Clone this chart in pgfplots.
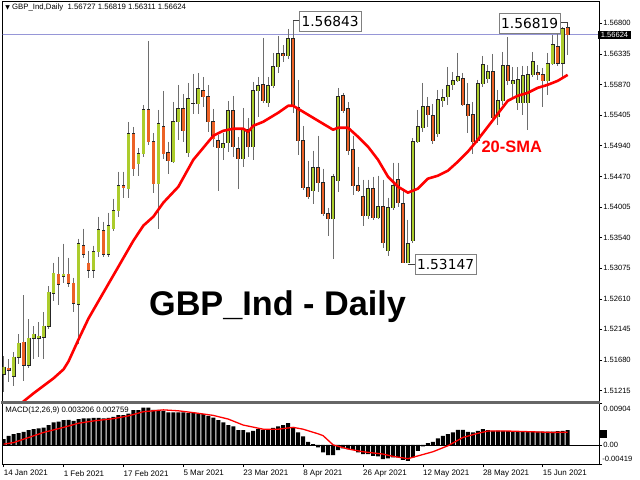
\documentclass[border=0pt]{standalone}
\usepackage{pgfplots}
\pgfplotsset{compat=1.18}
\usepackage{pgfplotstable}
\usepackage{fontspec}
\setmainfont{Liberation Sans}
\newfontfamily\dejavu{DejaVu Sans}

\definecolor{bull}{RGB}{172,204,44}
\definecolor{bear}{RGB}{236,98,38}
\definecolor{wick}{RGB}{110,110,110}
\definecolor{pline}{RGB}{150,150,215}

% daily candles, bull and bear: index, open, high, low, close
\pgfplotstableread{
i o h l c
0 1.51462 1.51735 1.51189 1.51569
2 1.51432 1.51796 1.51280 1.51720
3 1.51720 1.52069 1.51614 1.51933
5 1.51599 1.52297 1.51553 1.52009
6 1.52009 1.52191 1.51690 1.52069
7 1.52009 1.52251 1.51720 1.52039
8 1.52024 1.52403 1.51690 1.52191
9 1.52191 1.52798 1.52145 1.52707
10 1.52692 1.53162 1.52570 1.52995
12 1.52950 1.53450 1.52843 1.52980
15 1.52525 1.53526 1.51918 1.53450
18 1.53041 1.53420 1.52919 1.53329
19 1.53329 1.53860 1.53253 1.53663
21 1.53284 1.53921 1.53253 1.53724
22 1.53678 1.54133 1.53648 1.53951
23 1.53951 1.54543 1.53860 1.54331
25 1.54285 1.55302 1.54149 1.55120
27 1.54665 1.54907 1.54482 1.54816
28 1.54816 1.55560 1.54771 1.55484
31 1.54361 1.55484 1.53678 1.55272
34 1.54695 1.55606 1.54680 1.55302
35 1.55302 1.55864 1.55029 1.55499
37 1.54832 1.55894 1.54771 1.55651
39 1.55575 1.56046 1.55423 1.55803
44 1.54907 1.55135 1.54725 1.54968
45 1.54983 1.55621 1.54847 1.55469
48 1.54740 1.55515 1.54619 1.55181
50 1.54923 1.55909 1.54725 1.55772
51 1.55772 1.55985 1.55378 1.55848
53 1.55590 1.55985 1.55530 1.55848
54 1.55848 1.56349 1.55818 1.56137
55 1.56137 1.56607 1.56046 1.56334
57 1.56304 1.56714 1.56258 1.56562
62 1.54255 1.54862 1.54057 1.54604
66 1.53830 1.54513 1.53208 1.54467
67 1.54407 1.55818 1.54240 1.55681
73 1.53875 1.54422 1.53830 1.54285
75 1.53845 1.54482 1.53830 1.54012
77 1.53344 1.54149 1.53268 1.53997
78 1.53997 1.54680 1.53966 1.54331
81 1.53160 1.53815 1.53147 1.53450
82 1.53496 1.55059 1.53466 1.54999
83 1.54999 1.55484 1.54983 1.55226
84 1.55211 1.55894 1.55150 1.55530
87 1.55120 1.55788 1.55074 1.55636
88 1.55621 1.55803 1.55530 1.55666
89 1.55681 1.56137 1.55560 1.55848
90 1.55864 1.56061 1.55788 1.55924
91 1.55924 1.56349 1.55909 1.55985
95 1.55014 1.55939 1.54983 1.55879
96 1.55879 1.56304 1.55833 1.56167
97 1.55955 1.56167 1.55894 1.56061
99 1.55378 1.55788 1.55256 1.55621
100 1.55621 1.56364 1.55560 1.56152
102 1.55879 1.56137 1.55681 1.55924
103 1.55590 1.56137 1.55484 1.55939
104 1.55590 1.56152 1.55408 1.56000
105 1.55590 1.56152 1.55181 1.56015
106 1.56015 1.56364 1.55985 1.56213
109 1.55924 1.56349 1.55712 1.56182
110 1.56182 1.56622 1.56167 1.56471
112 1.56197 1.56744 1.55985 1.56714
}\bulltab

\pgfplotstableread{
i o h l c
1 1.51553 1.51690 1.51341 1.51523
4 1.51948 1.52661 1.51356 1.51599
11 1.52980 1.53253 1.52509 1.52828
13 1.52980 1.53238 1.52783 1.52843
14 1.52843 1.52934 1.52403 1.52540
16 1.53420 1.53678 1.53223 1.53284
17 1.53147 1.53344 1.52919 1.53041
20 1.53648 1.53784 1.53253 1.53284
24 1.54331 1.54543 1.54149 1.54300
26 1.55120 1.55226 1.54482 1.54589
29 1.55484 1.56531 1.54953 1.54999
30 1.54999 1.55135 1.54224 1.54361
32 1.55226 1.55772 1.54740 1.54816
33 1.54832 1.54999 1.54513 1.54710
36 1.55499 1.55727 1.54999 1.55165
38 1.55575 1.56031 1.55423 1.55575
40 1.55772 1.55985 1.55530 1.55681
41 1.55681 1.55864 1.55150 1.55302
42 1.55302 1.55499 1.54923 1.55044
43 1.55014 1.55105 1.54255 1.54907
46 1.55469 1.55697 1.54771 1.54923
47 1.54892 1.55074 1.54285 1.54740
49 1.55181 1.55363 1.54771 1.54923
52 1.55864 1.56577 1.55590 1.55621
56 1.56334 1.56471 1.56213 1.56304
58 1.56562 1.56843 1.55439 1.55530
59 1.55515 1.55939 1.54801 1.55014
60 1.55014 1.55241 1.54270 1.54300
61 1.54300 1.54710 1.54133 1.54164
63 1.54604 1.55090 1.54240 1.54376
64 1.54376 1.54589 1.53875 1.53906
65 1.53906 1.53997 1.53572 1.53830
68 1.55697 1.55742 1.55439 1.55469
69 1.55499 1.55606 1.54801 1.54862
70 1.54877 1.55090 1.54194 1.54331
71 1.54331 1.54619 1.54240 1.54255
72 1.54164 1.54422 1.53724 1.53875
74 1.54285 1.54467 1.53815 1.53845
76 1.54012 1.54422 1.53390 1.53466
79 1.54422 1.54680 1.54012 1.54073
80 1.54057 1.54285 1.53155 1.53162
85 1.55530 1.55681 1.55226 1.55408
86 1.55393 1.55575 1.54968 1.55014
92 1.55955 1.56046 1.55545 1.55560
93 1.55560 1.55894 1.55135 1.55393
94 1.55408 1.55606 1.54816 1.54999
98 1.56061 1.56334 1.55332 1.55363
101 1.56152 1.56592 1.55864 1.55924
107 1.56046 1.56167 1.55939 1.56015
108 1.56015 1.56122 1.55530 1.55924
111 1.56440 1.56729 1.56152 1.56197
113 1.56727 1.56819 1.56311 1.56624
}\beartab

% 20-SMA
\pgfplotstableread{
i v
3 1.50961
4 1.51052
6 1.51174
10 1.51402
12 1.51538
13 1.51660
15 1.51993
17 1.52312
20 1.52707
23 1.53101
26 1.53496
28 1.53724
30 1.53860
32 1.54073
35 1.54315
38 1.54725
40 1.54907
42 1.55090
44 1.55165
46 1.55196
48 1.55196
49 1.55150
50 1.55241
52 1.55302
55 1.55439
57 1.55545
58 1.55545
60 1.55454
62 1.55363
64 1.55272
66 1.55181
67 1.55211
69 1.55211
71 1.55074
73 1.54923
75 1.54725
77 1.54467
79 1.54315
81 1.54224
83 1.54285
85 1.54437
87 1.54482
89 1.54558
91 1.54695
93 1.54847
95 1.55029
97 1.55226
99 1.55423
101 1.55621
103 1.55697
105 1.55742
107 1.55818
109 1.55864
111 1.55924
113 1.56015
}\smatab

% MACD histogram
\pgfplotstableread{
i v
0 0.00124
1 0.00195
2 0.00232
3 0.00254
4 0.00282
5 0.00319
6 0.00340
7 0.00356
8 0.00377
9 0.00427
10 0.00486
11 0.00507
12 0.00536
13 0.00542
14 0.00520
15 0.00557
16 0.00573
17 0.00573
18 0.00586
19 0.00586
20 0.00573
21 0.00586
22 0.00607
23 0.00644
24 0.00644
25 0.00681
26 0.00753
27 0.00753
28 0.00811
29 0.00811
30 0.00759
31 0.00759
32 0.00737
33 0.00703
34 0.00703
35 0.00703
36 0.00703
37 0.00687
38 0.00687
39 0.00681
40 0.00666
41 0.00629
42 0.00594
43 0.00536
44 0.00486
45 0.00427
46 0.00399
47 0.00319
48 0.00319
49 0.00269
50 0.00304
51 0.00340
52 0.00325
53 0.00325
54 0.00369
55 0.00399
56 0.00427
57 0.00471
58 0.00377
59 0.00269
60 0.00182
61 0.00065
62 0.00015
63 -0.00056
64 -0.00165
65 -0.00223
66 -0.00223
67 -0.00115
68 -0.00078
69 -0.00093
70 -0.00108
71 -0.00165
72 -0.00202
73 -0.00202
74 -0.00239
75 -0.00252
76 -0.00310
77 -0.00295
78 -0.00273
79 -0.00273
80 -0.00325
81 -0.00347
82 -0.00273
83 -0.00130
84 -0.00035
85 0.00037
86 0.00065
87 0.00139
88 0.00195
89 0.00232
90 0.00269
91 0.00325
92 0.00325
93 0.00282
94 0.00269
95 0.00304
96 0.00340
97 0.00319
98 0.00304
99 0.00310
100 0.00304
101 0.00300
102 0.00297
103 0.00297
104 0.00290
105 0.00290
106 0.00287
107 0.00287
108 0.00290
109 0.00290
110 0.00290
111 0.00297
112 0.00304
113 0.00321
}\histtab

% MACD signal line
\pgfplotstableread{
i v
0 0.00015
2 0.00050
5 0.00160
8 0.00270
12 0.00380
15 0.00470
18 0.00520
22 0.00570
25 0.00630
28 0.00720
32 0.00760
35 0.00740
38 0.00700
42 0.00640
45 0.00560
48 0.00430
52 0.00340
55 0.00340
58 0.00380
60 0.00340
63 0.00240
64 0.00200
66 0.00000
69 -0.00090
72 -0.00150
76 -0.00200
78 -0.00250
81 -0.00300
83 -0.00240
86 -0.00150
89 -0.00020
92 0.00160
95 0.00250
97 0.00300
101 0.00300
104 0.00290
107 0.00280
110 0.00270
113 0.00276
}\sigtab

\pgfplotsset{
  mt/.style={scale only axis, anchor=south west, xmin=-0.2, xmax=119.3,
    axis line style={black, line width=0.6pt},
    tick align=outside, major tick length=3pt,
    tick style={black, line width=0.5pt},
    scaled y ticks=false, scaled x ticks=false,
    ytick pos=right, yticklabel pos=right,
    ticklabel style={font=\fontsize{7.6}{8}\selectfont},
    yticklabel style={anchor=west, inner sep=0pt, xshift=1pt}},
  body/.style n args={2}{draw=none, mark=none, forget plot,
    error bars/.cd, y dir=minus, y explicit, error mark=none,
    error bar style={draw=#1, line width=#2}},
}

\begin{document}
\begin{tikzpicture}[x=1pt,y=1pt]
\fill[white] (0,0) rectangle (640,480);

\begin{axis}[mt, at={(1.5pt,77pt)}, width=597.5pt, height=401.3pt,
  ymin=1.51037, ymax=1.57128, xtick=\empty,
  ytick={1.51215,1.51680,1.52145,1.52610,1.53075,1.53540,1.54005,1.54470,1.54940,1.55405,1.55870,1.56335,1.56800},
  yticklabels={1.51215,1.51680,1.52145,1.52610,1.53075,1.53540,1.54005,1.54470,1.54940,1.55405,1.55870,1.56335,1.56800}]

\addplot[pline, line width=0.8pt] coordinates {(-1,1.56624) (121,1.56624)};

% wicks
\addplot[body={wick}{0.9pt}]
  table[x=i, y=h, y error minus expr={\thisrow{h}-\thisrow{l}}] {\bulltab};
\addplot[body={wick}{0.9pt}]
  table[x=i, y=h, y error minus expr={\thisrow{h}-\thisrow{l}}] {\beartab};

% bodies: dark outline, then fill
\addplot[body={black!85}{3.8pt}]
  table[x=i, y expr={max(\thisrow{o},\thisrow{c})+0.00009},
        y error minus expr={abs(\thisrow{c}-\thisrow{o})+0.00018}] {\bulltab};
\addplot[body={black!85}{3.8pt}]
  table[x=i, y expr={max(\thisrow{o},\thisrow{c})+0.00009},
        y error minus expr={abs(\thisrow{c}-\thisrow{o})+0.00018}] {\beartab};
\addplot[body={bull}{2.4pt}]
  table[x=i, y expr={max(\thisrow{o},\thisrow{c})},
        y error minus expr={abs(\thisrow{c}-\thisrow{o})}] {\bulltab};
\addplot[body={bear}{2.4pt}]
  table[x=i, y expr={max(\thisrow{o},\thisrow{c})},
        y error minus expr={abs(\thisrow{c}-\thisrow{o})}] {\beartab};

% 20-SMA
\addplot[red, line width=2.6pt, line join=round] table[x=i, y=v] {\smatab};
\end{axis}

% MACD caption sits behind the histogram
\node[anchor=west, inner sep=0pt, font=\fontsize{7.8}{9}\selectfont] at (4,68.5)
  {MACD(12,26,9) 0.003206 0.002759};

\begin{axis}[mt, at={(1.5pt,15pt)}, width=597.5pt, height=61pt,
  ymin=-0.00419, ymax=0.00904,
  ytick={-0.00419,0,0.00904}, yticklabels={,0.00,},
  xtick={0,12,...,108}, xtick pos=bottom,
  xticklabels={14 Jan 2021,1 Feb 2021,17 Feb 2021,5 Mar 2021,23 Mar 2021,8 Apr 2021,26 Apr 2021,12 May 2021,28 May 2021,15 Jun 2021},
  xticklabel style={font=\fontsize{8}{9}\selectfont, anchor=north west, inner sep=0pt, xshift=0pt, yshift=-3pt}]
\addplot[ybar, bar width=4pt, fill=black, draw=none] table[x=i, y=v] {\histtab};
\addplot[black, line width=0.7pt] coordinates {(-1,0) (121,0)};
\addplot[red, line width=1.3pt, line join=round] table[x=i, y=v] {\sigtab};
\end{axis}

% panel separator
\draw[black!60, line width=2.4pt] (0,76.7) -- (599.5,76.7);

% price panel caption
\node[anchor=west, inner sep=0pt, font=\fontsize{7.8}{9}\selectfont] at (4,472)
  {{\dejavu\fontsize{6}{7}\selectfont ▼}\ GBP\_Ind,Daily\ \ 1.56727 1.56819 1.56311 1.56624};

% right side extra labels
\node[anchor=west, fill=black, text=white, inner xsep=3pt, inner ysep=1.2pt,
  font=\fontsize{7.6}{8}\selectfont] at (597.5,445) {1.56624};
\fill[black] (600,41) rectangle (606.5,49.5);
\node[anchor=west, inner sep=0pt, font=\fontsize{7.6}{8}\selectfont] at (603,70) {0.00904};
\node[anchor=west, inner sep=0pt, font=\fontsize{7.6}{8}\selectfont] at (602,20) {-0.00419};

% price call-outs
\draw[black!75, line width=0.6pt] (292.5,459.3) -- (298,459.3);
\node[draw=black!50, fill=white, minimum width=62.5pt, minimum height=20.5pt, inner sep=0pt,
  font=\dejavu\fontsize{13.8}{15}\selectfont] at (329.5,458.7) {1.56843};
\draw[black!75, line width=0.6pt] (560,457.3) -- (567.5,457.3) -- (567.5,452);
\node[draw=black!50, fill=white, minimum width=61pt, minimum height=20pt, inner sep=0pt,
  font=\dejavu\fontsize{13.8}{15}\selectfont] at (529.5,456.7) {1.56819};
\draw[black!75, line width=0.6pt] (407.5,215.7) -- (414.3,215.7);
\node[draw=black!50, fill=white, minimum width=61.7pt, minimum height=20pt, inner sep=0pt,
  font=\dejavu\fontsize{13.8}{15}\selectfont] at (445.2,215) {1.53147};

% chart titles
\node[anchor=base west, inner sep=0pt, font=\fontsize{34.3}{37}\selectfont\bfseries]
  at (148,163.5) {GBP\_Ind - Daily};
\node[anchor=base west, inner sep=0pt, text=red, font=\fontsize{16.5}{18}\selectfont\bfseries]
  at (481,327.3) {20-SMA};
\end{tikzpicture}
\end{document}
